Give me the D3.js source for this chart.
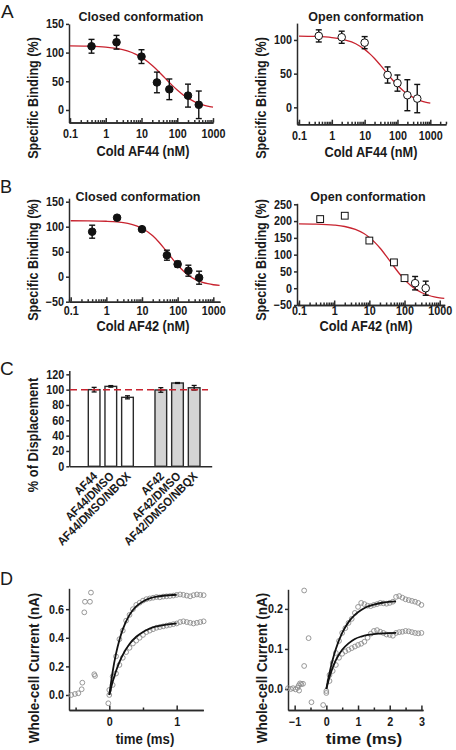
<!DOCTYPE html>
<html><head><meta charset="utf-8">
<script src="https://cdn.jsdelivr.net/npm/d3@7"></script>
<style>
body{margin:0;background:#fff;}
svg text{font-family:"Liberation Sans",Arial,Helvetica,sans-serif;fill:#1a1a1a;}
.axis path,.axis line{stroke:#2a2a2a;stroke-width:1.5;}
.axis text{font-size:12px;font-weight:bold;fill:#1a1a1a;}
</style></head><body>
<svg id="fig" width="456" height="750"></svg>
<script>
// ---------------- DATA ----------------
const concentrations = [0.4, 2, 10, 50, 100, 200, 400];
const closedAF44Conc = [0.4, 2, 10, 27, 60, 200, 400];
const closedAF44 = [111, 118, 93, 48, 36, 25, 9];
const closedAF44Err = [12, 12, 12, 18, 18, 20, 24];
const openAF44 = [106, 104, 96, 48, 36, 18, 13];
const openAF44Err = [9, 9, 9, 12, 12, 23, 21];
const closedAF42 = [90, 118, 95, 43, 25, 12, -2];
const closedAF42Err = [13, 4, 4, 10, 6, 11, 13];
const openAF42 = [206, 216, 142, 77, 30, 15, 0];
const openAF42Err = [4, 4, 5, 5, 5, 20, 21];
const openAF42Shapes = ["square","square","square","square","square","circle","circle"];

// fitted curves
const fitX = [0.1,0.3,1,2,4,7,10,15,20,30,45,70,100,150,200,300,500,700,1000];
const fitClosedAF44 = [111.8,111.3,109.6,107.2,102.9,96.9,91.6,84,77.5,67.2,56,43.8,34.8,25.8,20.6,14.6,9.2,6.8,4.8];
const fitOpenAF44 = [105.8,105.3,103.6,101.3,97,91.1,86,78.6,72.5,62.7,52.3,41,32.8,24.8,20,14.8,10,7.9,6.2];
const fitXClosedAF42 = [0.1,0.3,1,2,4,7,10,15,20,30,45,70,100,150,200,300,500,700,1000,1500];
const fitClosedAF42 = [111.9,111.7,110.9,109.6,106.6,101.7,96.9,89.1,81.8,69,53.9,36.5,23.3,10.5,3.1,-4.8,-11.3,-14,-16.1,-17.5];
const fitXOpenAF42 = [0.1,0.3,1,2,4,7,10,15,20,30,45,70,100,150,200,300,500,700,1000,1350];
const fitOpenAF42 = [191.7,191,188.1,183.9,175.3,162.9,151.4,134.4,119.8,96.3,71.2,44.6,25.7,8,-2,-12.7,-21.7,-25.7,-28.6,-30.3];

const logTickLabels = ["0.1","1","10","100","1000"];
const logTickValues = [0.1,1,10,100,1000];

// Panel C
const displacementSlots = ["AF44","AF44/DMSO","AF44/DMSO/NBQX","","AF42","AF42/DMSO","AF42/DMSO/NBQX"];
const displacementLabels = ["AF44","AF44/DMSO","AF44/DMSO/NBQX","AF42","AF42/DMSO","AF42/DMSO/NBQX"];
const displacementValues = [100, 104.3, 90, 99.6, 108.7, 102.5];
const displacementErr = [3, 1, 2, 3, 0.6, 3];
const displacementFill = ["#ffffff","#ffffff","#ffffff","#d4d4d4","#d4d4d4","#d4d4d4"];
const displacementTicks = [0,20,40,60,80,100,120];

// Panel D left (time in ms, current in nA)
const d1ArtifactT = [-0.565,-0.51,-0.46,-0.41,-0.40,-0.371,-0.361,-0.287,-0.272,-0.223,-0.212,-0.015];
const d1ArtifactI = [0.0,0.007,0.012,0.04,0.086,0.578,0.652,0.652,0.716,0.145,0.133,-0.058];
const d1T = [0,0.05,0.1,0.15,0.2,0.25,0.3,0.35,0.4,0.45,0.5,0.55,0.6,0.65,0.7,0.75,0.8,0.85,0.9,0.95,1.0,1.05,1.1,1.15,1.2,1.25,1.3,1.35,1.4];
const d1Upper = [0.0,0.13,0.27,0.39,0.45,0.52,0.56,0.60,0.63,0.645,0.66,0.67,0.675,0.68,0.685,0.683,0.688,0.69,0.692,0.695,0.70,0.703,0.70,0.695,0.69,0.698,0.703,0.70,0.698];
const d1Lower = [0.035,0.07,0.15,0.21,0.26,0.30,0.33,0.36,0.38,0.40,0.42,0.44,0.45,0.46,0.47,0.475,0.48,0.485,0.49,0.495,0.50,0.51,0.515,0.51,0.505,0.50,0.505,0.51,0.515];
const d1FitT = [0,0.05,0.1,0.15,0.2,0.3,0.4,0.5,0.6,0.7,0.8,0.9,1.0];
const d1FitUpper = [0,0.164,0.289,0.385,0.459,0.56,0.619,0.654,0.675,0.687,0.694,0.698,0.701];
const d1FitLower = [0,0.092,0.168,0.230,0.281,0.357,0.407,0.441,0.464,0.479,0.489,0.496,0.501];

// Panel D right
const d2ArtifactT = [-1.21,-1.12,-1.05,-0.97,-0.91,-0.87,-0.83,-0.79,-0.735,-0.86,-0.70,-0.70,-0.56,-0.47,-0.10];
const d2ArtifactI = [0.002,0.0,0.002,-0.001,0.003,0.009,0.014,0.012,0.013,-0.004,0.246,0.0575,0.127,-0.033,-0.04];
const d2T = [0,0.1,0.2,0.3,0.4,0.5,0.6,0.7,0.8,0.9,1.0,1.1,1.2,1.3,1.4,1.5,1.6,1.7,1.8,1.9,2.0,2.1,2.2,2.3,2.4,2.5,2.6,2.7,2.8,2.9,3.0];
const d2Upper = [-0.005,0.035,0.065,0.09,0.12,0.14,0.152,0.165,0.175,0.19,0.205,0.215,0.212,0.208,0.207,0.21,0.212,0.215,0.214,0.213,0.215,0.218,0.23,0.232,0.228,0.224,0.222,0.22,0.218,0.215,0.21];
const d2Lower = [-0.01,0.02,0.045,0.06,0.078,0.088,0.094,0.098,0.102,0.106,0.11,0.113,0.118,0.128,0.138,0.145,0.147,0.143,0.14,0.136,0.135,0.133,0.14,0.142,0.143,0.145,0.144,0.142,0.14,0.139,0.14];
const d2FitT = [0,0.1,0.2,0.3,0.5,0.7,0.9,1.1,1.3,1.5,1.8,2.2];
const d2FitUpper = [0,0.040,0.073,0.100,0.140,0.167,0.185,0.197,0.206,0.211,0.216,0.219];
const d2FitLower = [0,0.030,0.053,0.072,0.098,0.114,0.125,0.131,0.135,0.137,0.139,0.140];

// ---------------- DRAW ----------------
const svg = d3.select("#fig");
const RED = "#c8232f";
const TICK_SX = 0.9;

function text(x, y, s, opts={}) {
  const sx = opts.sx || 1;
  const t = svg.append("text").attr("x", 0).attr("y", 0).text(s)
    .attr("font-size", opts.size || 13).attr("font-weight", opts.weight || "bold")
    .attr("text-anchor", opts.anchor || "middle")
    .attr("transform", `translate(${x},${y}) rotate(${opts.rotate || 0}) scale(${sx},1)`);
  return t;
}
function squeezeTicks(g) {
  g.selectAll(".tick text").each(function () {
    const x = +this.getAttribute("x") || 0;
    this.setAttribute("x", x / TICK_SX);
    this.setAttribute("transform", `scale(${TICK_SX},1)`);
  });
}

function logPanel(c) {
  const xa = d3.scaleLog().domain([0.1, 1000]).range(c.xAnchor);
  const x = d3.scaleLog().domain([xa.invert(c.xExtent[0]), xa.invert(c.xExtent[1])]).range(c.xExtent);
  const y = d3.scaleLinear().domain(c.yDomain).range(c.yRange);
  const xAxisY = c.yRange[0];
  const minor = x.ticks().filter(v => Math.abs(Math.log10(v) - Math.round(Math.log10(v))) > 1e-6);
  svg.append("g").attr("class", "axis").attr("transform", `translate(0,${xAxisY})`)
    .call(d3.axisBottom(x).tickValues(minor).tickSize(-2.5).tickFormat("").tickSizeOuter(0));
  svg.append("g").attr("class", "axis").attr("transform", `translate(0,${xAxisY})`)
    .call(d3.axisBottom(x).tickValues(logTickValues).tickSize(-4.5).tickPadding(c.xPad)
      .tickFormat((d, i) => logTickLabels[i]).tickSizeOuter(0)).call(squeezeTicks);
  svg.append("g").attr("class", "axis").attr("transform", `translate(${c.xExtent[0]},0)`)
    .call(d3.axisLeft(y).tickValues(c.yTicks).tickSize(3).tickPadding(2).tickSizeOuter(0)).call(squeezeTicks);
  svg.append("path").datum(c.fitX.map((v, i) => [v, c.fitY[i]]))
    .attr("fill", "none").attr("stroke", RED).attr("stroke-width", 1.3)
    .attr("d", d3.line().x(d => x(d[0])).y(d => y(d[1])).curve(d3.curveMonotoneX));
  const g = svg.append("g");
  c.conc.forEach((cx, i) => {
    const px = x(cx), v = c.values[i], e = c.err[i];
    g.append("line").attr("x1", px).attr("x2", px).attr("y1", y(v - e)).attr("y2", y(v + e))
      .attr("stroke", "#111").attr("stroke-width", 1.4);
    [v - e, v + e].forEach(w => g.append("line").attr("x1", px - 3).attr("x2", px + 3)
      .attr("y1", y(w)).attr("y2", y(w)).attr("stroke", "#111").attr("stroke-width", 1.4));
  });
  c.conc.forEach((cx, i) => {
    const px = x(cx), py = y(c.values[i]);
    const shape = c.shapes ? c.shapes[i] : "circle";
    if (shape === "square") {
      g.append("rect").attr("x", px - 3.4).attr("y", py - 3.4).attr("width", 6.8).attr("height", 6.8)
        .attr("fill", "#fff").attr("stroke", "#111").attr("stroke-width", 1);
    } else {
      g.append("circle").attr("cx", px).attr("cy", py).attr("r", 3.8)
        .attr("fill", c.filled ? "#111" : "#fff").attr("stroke", "#111").attr("stroke-width", 1);
    }
  });
  text(c.titleX, c.titleY, c.title, {size: 12.5});
  text(c.xlabelX, c.xlabelY, c.xlabel, {size: 15, sx: 0.85});
  text(c.ylabelX, c.ylabelY, "Specific Binding (%)", {size: 15, sx: 0.84, rotate: -90});
}

// Panel A
logPanel({xAnchor: [70, 213], xExtent: [69, 213], yDomain: [-22, 150], yRange: [122.6, 23.9], yTicks: [0,50,100,150], xPad: 7,
  conc: closedAF44Conc, values: closedAF44, err: closedAF44Err, filled: true, fitX: fitX, fitY: fitClosedAF44,
  title: "Closed conformation", titleX: 141, titleY: 20.5, xlabelX: 143, xlabel: "Cold AF44 (nM)", xlabelY: 155.5, ylabelX: 37.5, ylabelY: 98});
logPanel({xAnchor: [299, 430.3], xExtent: [297, 446], yDomain: [-25, 125], yRange: [124.2, 23.1], yTicks: [0,50,100], xPad: 7,
  conc: concentrations, values: openAF44, err: openAF44Err, filled: false, fitX: fitX, fitY: fitOpenAF44,
  title: "Open conformation", titleX: 366, titleY: 20.5, xlabelX: 371, xlabel: "Cold AF44 (nM)", xlabelY: 156.5, ylabelX: 265.5, ylabelY: 98});
// Panel B
logPanel({xAnchor: [70.7, 213.3], xExtent: [69, 220], yDomain: [-50, 157], yRange: [301.7, 198.2], yTicks: [-50,0,50,100,150], xPad: 4.5,
  conc: concentrations, values: closedAF42, err: closedAF42Err, filled: true, fitX: fitXClosedAF42, fitY: fitClosedAF42,
  title: "Closed conformation", titleX: 138, titleY: 201, xlabelX: 143, xlabel: "Cold AF42 (nM)", xlabelY: 330.5, ylabelX: 37.5, ylabelY: 260});
logPanel({xAnchor: [299, 439.7], xExtent: [297, 444.7], yDomain: [-50, 253], yRange: [305, 203.3], yTicks: [-50,0,50,100,150,200,250], xPad: 1.5,
  conc: concentrations, values: openAF42, err: openAF42Err, filled: false, shapes: openAF42Shapes, fitX: fitXOpenAF42, fitY: fitOpenAF42,
  title: "Open conformation", titleX: 368, titleY: 201, xlabelX: 366, xlabel: "Cold AF42 (nM)", xlabelY: 331, ylabelX: 265.5, ylabelY: 260});

// Panel C
(function () {
  const y = d3.scaleLinear().domain([0, 125]).range([466.3, 370.5]);
  const band = d3.scaleBand().domain(displacementSlots).range([88.3, 200]).paddingInner(0.3).paddingOuter(0);
  const frame = d3.scaleLinear().range([69.3, 211.7]);
  const g = svg.append("g");
  displacementLabels.forEach((lab, i) => {
    const bx = band(lab), v = displacementValues[i];
    g.append("rect").attr("x", bx).attr("y", y(v)).attr("width", band.bandwidth()).attr("height", y(0) - y(v))
      .attr("fill", displacementFill[i]).attr("stroke", "#2a2a2a").attr("stroke-width", 1.4);
    const cx = bx + band.bandwidth() / 2, e = displacementErr[i];
    g.append("line").attr("x1", cx).attr("x2", cx).attr("y1", y(v - e)).attr("y2", y(v + e)).attr("stroke", "#111").attr("stroke-width", 1.3);
    [v - e, v + e].forEach(w => g.append("line").attr("x1", cx - 2.5).attr("x2", cx + 2.5).attr("y1", y(w)).attr("y2", y(w)).attr("stroke", "#111").attr("stroke-width", 1.3));
    text(cx + 4, 477, lab, {size: 12, sx: 0.92, rotate: -45, anchor: "end"});
  });
  svg.append("g").attr("class", "axis").attr("transform", `translate(69.3,0)`)
    .call(d3.axisLeft(y).tickValues(displacementTicks).tickSize(3).tickPadding(2).tickSizeOuter(0)).call(squeezeTicks);
  svg.append("g").attr("class", "axis").attr("transform", `translate(0,${y(0)})`)
    .call(d3.axisBottom(frame).ticks(0).tickSizeOuter(0));
  svg.append("line").attr("x1", 70).attr("x2", 208).attr("y1", y(100)).attr("y2", y(100))
    .attr("stroke", RED).attr("stroke-width", 1.5).attr("stroke-dasharray", "7,4");
  text(37.5, 435, "% of Displacement", {size: 15, sx: 0.86, rotate: -90});
})();

// Panel D
function currentPanel(c) {
  const x = d3.scaleLinear().domain(c.xDomain).range(c.xRange);
  const y = d3.scaleLinear().domain(c.yDomain).range(c.yRange);
  svg.append("g").attr("class", "axis").attr("transform", `translate(0,${c.yRange[0]})`)
    .call(d3.axisBottom(x).tickValues(c.xMinor).tickSize(-2.5).tickFormat("").tickSizeOuter(0));
  svg.append("g").attr("class", "axis").attr("transform", `translate(0,${c.yRange[0]})`)
    .call(d3.axisBottom(x).tickValues(c.xTicks).tickSize(-4.5).tickPadding(7).tickFormat(d3.format("d")).tickSizeOuter(0)).call(squeezeTicks);
  svg.append("g").attr("class", "axis").attr("transform", `translate(${c.xRange[0]},0)`)
    .call(d3.axisLeft(y).tickValues(c.yTicks).tickSize(3).tickPadding(2).tickFormat(d3.format(".1f")).tickSizeOuter(0)).call(squeezeTicks);
  const g = svg.append("g");
  const pts = [];
  c.artT.forEach((t, i) => pts.push([t, c.artI[i]]));
  c.t.forEach((t, i) => { pts.push([t, c.upper[i]]); pts.push([t, c.lower[i]]); });
  g.selectAll("circle").data(pts).join("circle").attr("cx", d => x(d[0])).attr("cy", d => y(d[1])).attr("r", 2.4)
    .attr("fill", "none").attr("stroke", "#8c8c8c").attr("stroke-width", 0.9);
  const line = d3.line().x(d => x(d[0])).y(d => y(d[1])).curve(d3.curveMonotoneX);
  [c.fitU, c.fitL].forEach(f => svg.append("path").datum(c.fitT.map((t, i) => [t, f[i]]))
    .attr("fill", "none").attr("stroke", "#111").attr("stroke-width", 1.8).attr("d", line));
  text(c.xlabelX, 744, "time (ms)", {size: 15, sx: c.xlabelSx});
  text(c.ylabelX, 668, "Whole-cell Current (nA)", {size: 15, sx: 0.9, rotate: -90});
}
currentPanel({xDomain: [-0.598, 1.395], xRange: [69, 203.3], yDomain: [-0.105, 0.746], yRange: [710, 588.3],
  xTicks: [0, 1], xMinor: [-0.5, 0.5], yTicks: [0, 0.2, 0.4, 0.6],
  artT: d1ArtifactT, artI: d1ArtifactI, t: d1T, upper: d1Upper, lower: d1Lower,
  fitT: d1FitT, fitU: d1FitUpper, fitL: d1FitLower, xlabelX: 145, xlabelSx: 0.88, ylabelX: 38.5});
currentPanel({xDomain: [-1.21, 3.05], xRange: [288, 423], yDomain: [-0.0525, 0.249], yRange: [710, 589.3],
  xTicks: [-1, 0, 1, 2, 3], xMinor: [-0.5, 0.5, 1.5, 2.5], yTicks: [0, 0.1, 0.2],
  artT: d2ArtifactT, artI: d2ArtifactI, t: d2T, upper: d2Upper, lower: d2Lower,
  fitT: d2FitT, fitU: d2FitUpper, fitL: d2FitLower, xlabelX: 364, xlabelSx: 1.15, ylabelX: 266.5});

// Panel letters
text(1, 18, "A", {size: 19, weight: "normal", anchor: "start"});
text(0, 193, "B", {size: 18, weight: "normal", anchor: "start"});
text(0, 375, "C", {size: 19, weight: "normal", anchor: "start"});
text(0, 585, "D", {size: 18, weight: "normal", anchor: "start"});
</script>
</body></html>
